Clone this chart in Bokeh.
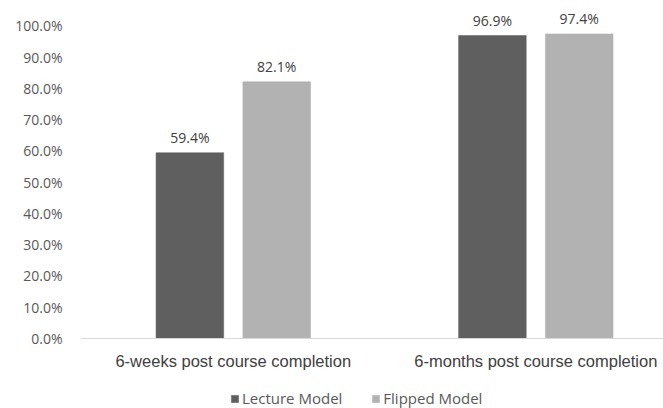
from bokeh.plotting import figure
from bokeh.models import (ColumnDataSource, Range1d, FixedTicker,
                          PrintfTickFormatter, Legend, LegendItem, Span)
from bokeh.core.properties import value
from bokeh.embed import file_html
from bokeh.resources import INLINE

categories = ["6-weeks post course completion", "6-months post course completion"]
series = ["Lecture Model", "Flipped Model"]
lecture = [59.4, 96.9]
flipped = [82.1, 97.4]
y_ticks = [0, 10, 20, 30, 40, 50, 60, 70, 80, 90, 100]
colors = ["#5f5f5f", "#b2b2b2"]
offsets = [-0.1435, 0.1435]
bar_width = 0.2235

p = figure(width=663, height=408, output_backend="svg", toolbar_location=None,
           x_range=Range1d(-0.505, 1.422), y_range=Range1d(-22.39, 104.57),
           min_border_left=80, min_border_right=0, min_border_top=11, min_border_bottom=0)
p.outline_line_color = None
p.xgrid.grid_line_color = None
p.ygrid.grid_line_color = None
p.background_fill_color = "white"
p.xaxis.visible = False

# baseline at 0
p.add_layout(Span(location=0, dimension="width", line_color="#d9d9d9", line_width=1))

renderers = []
for vals, col, off, name in zip([lecture, flipped], colors, offsets, series):
    xs = [i + off for i in range(len(categories))]
    src = ColumnDataSource(dict(x=xs, top=vals, lab=[f"{v:.1f}%" for v in vals]))
    r = p.vbar(x="x", top="top", width=bar_width, bottom=0, source=src,
               fill_color=col, line_color=col, line_width=0.5)
    renderers.append((name, r))
    p.text(x="x", y="top", text="lab", source=src, text_align="center",
           text_baseline="alphabetic", y_offset=-15, text_font=value("Open Sans"),
           text_font_size="14px", text_color="#404040")

# category labels under the baseline
cat_src = ColumnDataSource(dict(x=list(range(len(categories))), y=[0] * len(categories),
                                lab=categories))
p.text(x="x", y="y", text="lab", source=cat_src, text_align="center",
       text_baseline="middle", y_offset=23, text_font=value("Liberation Sans"),
       text_font_size="16.5px", text_color="#404040")

# y axis
p.yaxis.ticker = FixedTicker(ticks=y_ticks)
p.yaxis.formatter = PrintfTickFormatter(format="%.1f%%")
p.yaxis.axis_line_color = None
p.yaxis.major_tick_line_color = None
p.yaxis.minor_tick_line_color = None
p.yaxis.major_label_standoff = 12
p.yaxis.major_label_text_font = "Open Sans"
p.yaxis.major_label_text_font_size = "14px"
p.yaxis.major_label_text_color = "#595959"

legend = Legend(items=[LegendItem(label=n, renderers=[r]) for n, r in renderers],
                orientation="horizontal", location=(150, 0),
                glyph_width=9, glyph_height=9, label_height=9, label_standoff=3,
                spacing=29, padding=0, margin=0, border_line_color=None,
                label_text_font="Open Sans", label_text_font_size="15px",
                label_text_color="#595959", background_fill_alpha=0)
p.add_layout(legend, "center")

open("out.html", "w").write(file_html(p, INLINE))
